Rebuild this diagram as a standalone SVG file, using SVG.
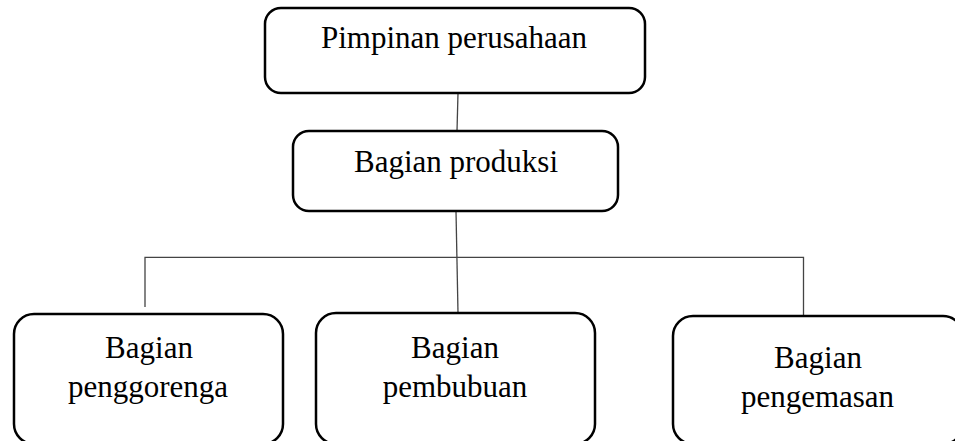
<svg xmlns="http://www.w3.org/2000/svg" width="955" height="441" viewBox="0 0 955 441">
<style>
.box{fill:#fff;stroke:#000;stroke-width:2.5}
.lbl{font-family:"Liberation Serif","Times New Roman",serif;font-size:31px;fill:#000;text-anchor:middle}
.con{fill:none;stroke:#444;stroke-width:1.3}
</style>
<rect width="955" height="441" fill="#fff"/>
<g id="connectors">
<line class="con" x1="458" y1="93" x2="457" y2="131"/>
<line class="con" x1="456" y1="211" x2="458" y2="313"/>
<polyline class="con" points="145,307 145,257.3 803.5,257.3 803.5,316"/>
</g>
<g id="pimpinan">
<rect class="box" x="265" y="8" width="380" height="85" rx="16"/>
<text class="lbl" x="454" y="48">Pimpinan perusahaan</text>
</g>
<g id="produksi">
<rect class="box" x="293" y="131" width="325" height="80" rx="16"/>
<text class="lbl" x="456" y="172">Bagian produksi</text>
</g>
<g id="penggorenga">
<rect class="box" x="14" y="314" width="269" height="130" rx="20"/>
<text class="lbl" x="149" y="358">Bagian</text>
<text class="lbl" x="148" y="397">penggorenga</text>
</g>
<g id="pembubuan">
<rect class="box" x="316" y="313" width="279" height="131" rx="20"/>
<text class="lbl" x="455" y="358">Bagian</text>
<text class="lbl" x="455" y="397">pembubuan</text>
</g>
<g id="pengemasan">
<rect class="box" x="673" y="316" width="290" height="128" rx="20"/>
<text class="lbl" x="818" y="368">Bagian</text>
<text class="lbl" x="817.5" y="407">pengemasan</text>
</g>
</svg>
